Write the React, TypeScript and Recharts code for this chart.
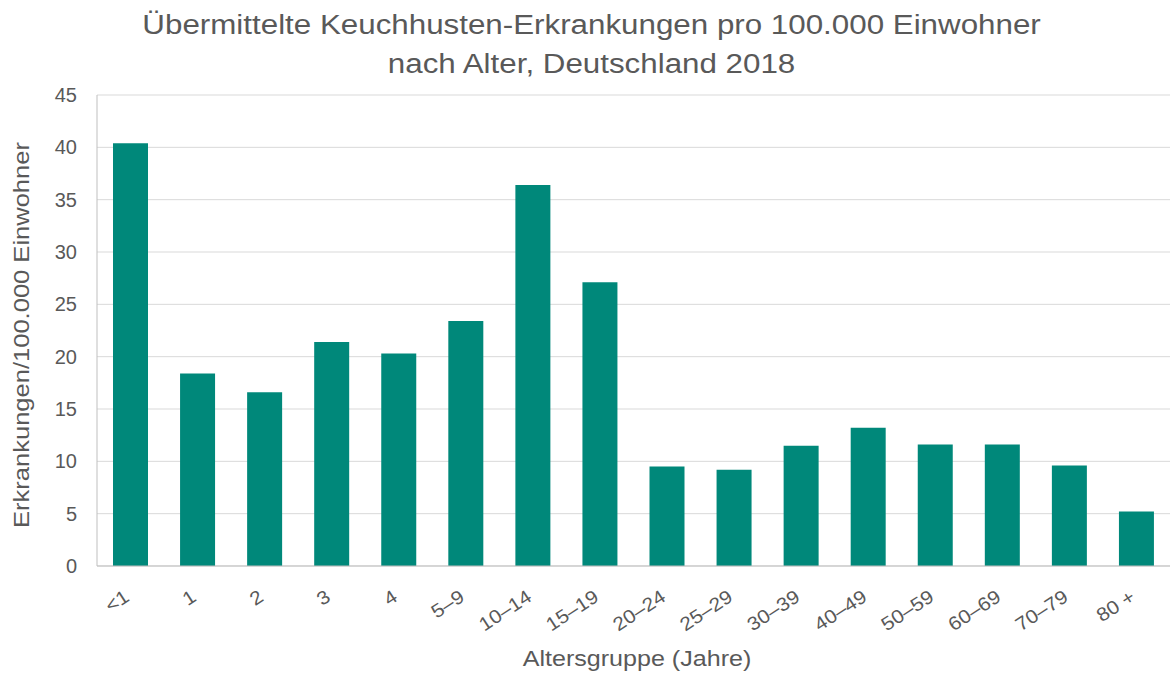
import { Bar, BarChart, CartesianGrid, XAxis, YAxis } from "recharts";

const ageGroups = [
  "<1", "1", "2", "3", "4", "5–9", "10–14", "15–19",
  "20–24", "25–29", "30–39", "40–49", "50–59", "60–69", "70–79", "80 +",
];
const incidence = [
  40.4, 18.4, 16.6, 21.4, 20.3, 23.4, 36.4, 27.1,
  9.5, 9.2, 11.5, 13.2, 11.6, 11.6, 9.6, 5.2,
];
const yTicks = [0, 5, 10, 15, 20, 25, 30, 35, 40, 45];

const chartData = ageGroups.map((group, i) => ({ group, value: incidence[i] }));

const font = "'Liberation Sans', Arial, sans-serif";
const textColor = "#595959";

// rotated category labels, right end sitting under the bar
const AngledTick = (props: any) => {
  const { x, y, payload } = props;
  return (
    <g transform={`translate(${x},${y + 26})`}>
      <text
        x={0}
        y={0}
        textAnchor="end"
        transform="rotate(-33) scale(1.1,1)"
        fill={textColor}
        fontSize={19}
        fontFamily={font}
      >
        {payload.value}
      </text>
    </g>
  );
};

export default function App() {
  return (
    <div
      style={{
        position: "absolute",
        top: 0,
        left: 0,
        width: 1171,
        height: 677,
        background: "#fff",
        overflow: "hidden",
      }}
    >
      <div
        style={{
          position: "absolute",
          top: 6,
          left: 0,
          width: 1171,
          textAlign: "center",
          fontFamily: font,
          fontSize: 27,
          lineHeight: "39px",
          color: textColor,
          whiteSpace: "nowrap",
          transform: "translateX(6px) scaleX(1.16)",
          transformOrigin: "585px 0",
        }}
      >
        Übermittelte Keuchhusten-Erkrankungen pro 100.000 Einwohner
        <br />
        nach Alter, Deutschland 2018
      </div>
      <div
        style={{
          position: "absolute",
          top: 646,
          left: 437,
          width: 400,
          textAlign: "center",
          fontFamily: font,
          fontSize: 22,
          lineHeight: "26px",
          color: textColor,
          transform: "scaleX(1.14)",
        }}
      >
        Altersgruppe (Jahre)
      </div>
      <div
        style={{
          position: "absolute",
          top: 322,
          left: -178,
          width: 400,
          textAlign: "center",
          fontFamily: font,
          fontSize: 22,
          lineHeight: "26px",
          color: textColor,
          transform: "rotate(-90deg) scaleX(1.16)",
        }}
      >
        Erkrankungen/100.000 Einwohner
      </div>
      <BarChart
        width={1171}
        height={677}
        data={chartData}
        margin={{ top: 95, right: 1, bottom: 0, left: 37 }}
        barSize={35}
      >
        <CartesianGrid vertical={false} stroke="#d9d9d9" />
        <XAxis
          dataKey="group"
          interval={0}
          tick={<AngledTick />}
          tickLine={false}
          axisLine={{ stroke: "#bfbfbf" }}
          height={111}
        />
        <YAxis
          domain={[0, 45]}
          ticks={yTicks}
          width={60}
          tickLine={false}
          axisLine={{ stroke: "#bfbfbf" }}
          tick={{ fill: textColor, fontSize: 20, fontFamily: font }}
          tickMargin={14}
        />
        <Bar dataKey="value" fill="#00887a" isAnimationActive={false} />
      </BarChart>
    </div>
  );
}
